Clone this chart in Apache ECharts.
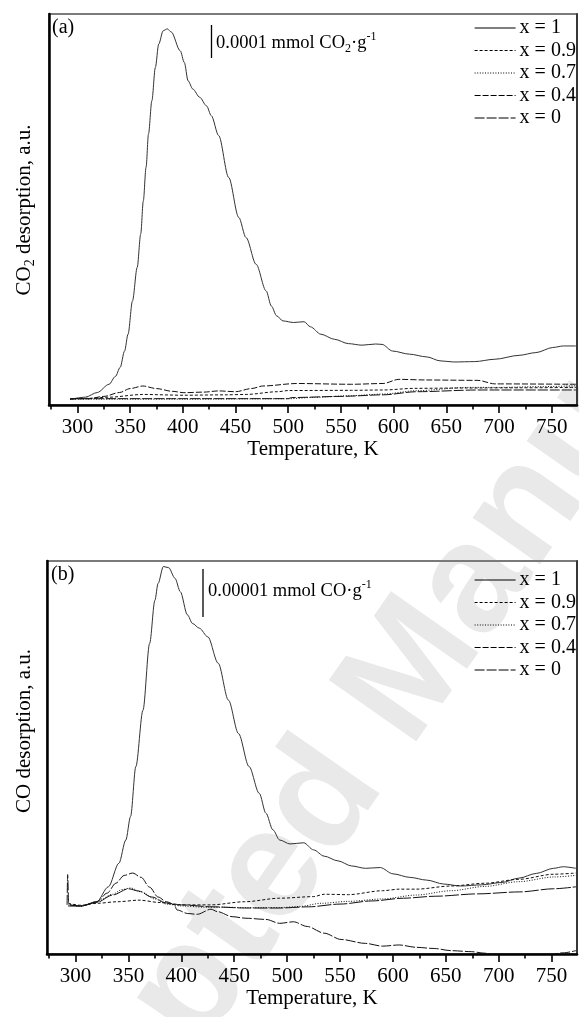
<!DOCTYPE html>
<html>
<head>
<meta charset="utf-8">
<script src="https://cdn.jsdelivr.net/npm/echarts@6/dist/echarts.min.js"></script>
<style>
html,body{margin:0;padding:0;background:#fff;}
#c{width:579px;height:1017px;}
</style>
</head>
<body>
<div id="c"></div>
<script>
// ---------- data (temperature K, desorption signal in a.u., 0..100 of panel height) ----------
const seriesNames = ['x = 1', 'x = 0.9', 'x = 0.7', 'x = 0.4', 'x = 0'];
const majorTicks = [300, 350, 400, 450, 500, 550, 600, 650, 700, 750];
const minorTicks = [275, 325, 375, 425, 475, 525, 575, 625, 675, 725];

// panel (a) CO2
const aX1 = [[293,1.45],[307.5,2.0],[318.8,3.2],[330,5.3],[336,7.3],[340.5,9.6],[344.7,13.8],[348,18.1],[352.2,26.6],[356.7,35.2],[360,43.7],[362.5,52.2],[365.1,60.8],[367.4,69.3],[370.6,77.8],[373.9,86.3],[377.1,92.3],[381.3,95.7],[385.2,96.2],[389,95.4],[397.5,90.6],[401.4,87.6],[405,82.9],[409.5,80.8],[416,78.7],[422.5,76.5],[427,74],[434,68.9],[443.5,58.2],[453,48],[460,42.8],[469.5,36],[479,29.2],[484,25.3],[489,22.8],[495,21.5],[505,21.1],[515,21.3],[521,20],[531,18.1],[544,16.8],[557,15.7],[570,15.3],[583,15.6],[589,15.5],[599,13.8],[615,13],[631.5,12.3],[644,11.3],[657,11],[677,11.1],[696,11.7],[719,12.7],[735,13.4],[751,14.7],[761,15.1],[773,15.1]];
const aX09 = [[293,1.6],[310,1.7],[330,2.0],[362,2.7],[401,2.5],[440,2.6],[460,2.7],[490,3.4],[500,3.7],[560,3.75],[590,3.84],[620,4.26],[670,4.35],[720,4.4],[773,4.5]];
const aX07 = [[293,1.5],[400,1.5],[500,1.6],[525,1.96],[560,2.4],[590,2.8],[622,3.66],[670,4.5],[700,4.5],[740,4.7],[773,4.9]];
const aX04 = [[293,1.5],[310,1.6],[325,2.2],[340,3.2],[350,4.2],[362,4.86],[375,4.2],[390,3.5],[401,3.15],[420,3.3],[434,3.6],[450,3.4],[465,4.2],[476,4.86],[508,5.5],[560,5.3],[590,5.5],[605,6.56],[631,6.4],[680,6.3],[696,5.4],[773,5.3]];
const aX0 = [[293,1.62],[400,1.62],[500,1.62],[503,1.9],[550,2.2],[590,2.6],[622,3.4],[680,3.84],[773,3.84]];

// panel (b) CO
const bX1 = [[294,12.5],[305.5,12.2],[320,13.3],[331,17.1],[341,23.1],[347.5,29],[352,35],[357,47.7],[363.7,62],[370,79],[375,90],[378,94.3],[383,98.6],[388,98.3],[394,95.6],[399,92.2],[405.7,86.3],[410.6,84.1],[417,82.9],[425,80.7],[434.8,74],[444.5,64.6],[454,56.1],[464,47.7],[473.6,40.9],[480,35.8],[486.5,31.6],[493,29],[502.7,28],[515.6,28.3],[525,26.5],[535,24.9],[548,23.7],[561,22.4],[574,21.8],[588,22],[600,20.4],[616,19.5],[632,18.8],[648,17.8],[664,17.3],[684,17.6],[703,18.2],[719,19.3],[735.5,20.5],[751.7,21.8],[761,22.2],[773,21.8]];
const bX09 = [[293,12.9],[305,12.4],[320,12.9],[340,13.3],[360,13.7],[380,13.1],[396,12.5],[428,12.5],[460,13.3],[493,14.2],[525,14.6],[535,15.2],[558,15.1],[590,16.1],[606,16.5],[622,16.5],[655,17.3],[687,18],[719,19],[752,20.3],[773,20.6]];
const bX07 = [[293,12.5],[305,12.2],[320,13.3],[335,15.2],[344,16.4],[352,16.8],[362,15.8],[375,14],[386,12.7],[402,12.2],[422,11.9],[441,11.9],[461,11.8],[493,11.8],[512,12.1],[532,12.9],[558,13.4],[590,14.0],[622,15.0],[655,16.1],[687,17.2],[719,18.4],[752,19.6],[773,20.0]];
const bX04 = [[293,12.2],[305,12.2],[320,13.1],[335,15.0],[350,16.6],[360,16.0],[372,14.5],[386,13.0],[400,12.5],[430,12.0],[460,11.7],[493,11.7],[520,12.0],[550,12.7],[580,13.5],[610,14.2],[640,14.7],[680,15.3],[720,15.8],[752,16.6],[773,17.1]];
const bX0 = [[292,12.5],[292.5,20.2],[293.5,13],[296,12.4],[305,12.2],[320,13.3],[330,15.5],[338,18],[346,20],[354,20.6],[362,19.5],[370,17],[378,14.5],[386,13.3],[393,12.6],[396,11.2],[406,10.3],[415,10.1],[428,11.4],[434,10.8],[448,9.5],[461,9.1],[480,8.8],[493,7.8],[506,8.2],[519,7],[535,5.3],[551,3.7],[574,2.7],[590,2],[606,2.3],[622,1.7],[639,1.4],[655,0.85],[674,0.6],[687,0.2],[700,-0.5],[740,-0.6],[761,0.3],[773,0.85]];

const panelA = [aX1, aX09, aX07, aX04, aX0];
const panelB = [bX1, bX09, bX07, bX04, bX0];

// ---------- styling ----------
const FONT = "'Liberation Serif', 'Times New Roman', serif";
const dashes = ['solid', [3, 2], [1, 1.6], [6, 2], [10, 2]];
const dashesB = ['solid', [3, 2], [1, 1.6], [14, 2], [10, 2]];
const lineColors = ['#333', '#111', '#111', '#111', '#111'];

const chart = echarts.init(document.getElementById('c'), null, {renderer: 'canvas'});

function xAxesFor(gridIndex, gap) {
  return [
    {
      type: 'value', gridIndex, min: 273, max: 774, position: 'bottom',
      axisLine: {show: true, lineStyle: {color: '#000', width: 2.5}},
      axisTick: {show: true, inside: false, length: 8, lineStyle: {color: '#000', width: 1.6}, customValues: majorTicks},
      axisLabel: {show: true, customValues: majorTicks, margin: 12, fontFamily: FONT, fontSize: 21, color: '#000'},
      splitLine: {show: false},
      name: 'Temperature, K', nameLocation: 'middle', nameGap: gap,
      nameTextStyle: {fontFamily: FONT, fontSize: 21, color: '#000'}
    },
    {
      type: 'value', gridIndex, min: 273, max: 774, position: 'bottom',
      axisLine: {show: false},
      axisTick: {show: true, inside: false, length: 4.5, lineStyle: {color: '#000', width: 1.6}, customValues: minorTicks},
      axisLabel: {show: false},
      splitLine: {show: false}
    }
  ];
}
function yAxesFor(gridIndex) {
  return [
    {
      type: 'value', gridIndex, min: 0, max: 100, position: 'left',
      axisLine: {show: true, lineStyle: {color: '#000', width: 2.5}},
      axisTick: {show: false}, axisLabel: {show: false}, splitLine: {show: false}
    },
    {
      type: 'value', gridIndex, min: 0, max: 100, position: 'right',
      axisLine: {show: true, lineStyle: {color: '#222', width: 1.5}},
      axisTick: {show: false}, axisLabel: {show: false}, splitLine: {show: false}
    }
  ];
}

const series = [];
panelA.forEach((d, i) => {
  series.push({
    name: seriesNames[i], type: 'line', xAxisIndex: 0, yAxisIndex: 0, data: d,
    symbol: 'none', smooth: 0.3, smoothMonotone: 'x', clip: true,
    lineStyle: {color: lineColors[i], width: 1, type: dashes[i]}, itemStyle: {color: '#111', opacity: 0}
  });
});
panelB.forEach((d, i) => {
  series.push({
    name: seriesNames[i], type: 'line', xAxisIndex: 2, yAxisIndex: 2, data: d,
    symbol: 'none', smooth: 0.3, smoothMonotone: 'x', clip: true,
    lineStyle: {color: lineColors[i], width: 1, type: dashesB[i]}, itemStyle: {color: '#111', opacity: 0}
  });
});

const legendCommon = {
  orient: 'vertical', left: 474, padding: 0, itemWidth: 41, itemHeight: 14, itemGap: 2.5,
  selectedMode: false,
  itemStyle: {opacity: 0, borderWidth: 0},
  lineStyle: {width: 1.2, opacity: 1, color: '#000'},
  textStyle: {fontFamily: FONT, fontSize: 20, color: '#000', padding: [0, 0, 0, -1]},
  data: seriesNames
};

const labelRich = {
  n: {fontFamily: FONT, fontSize: 21, color: '#000', lineHeight: 26, verticalAlign: 'middle'},
  sub: {fontFamily: FONT, fontSize: 14, color: '#000', lineHeight: 14, verticalAlign: 'bottom'}
};
const noteRich = {
  n: {fontFamily: FONT, fontSize: 18.5, color: '#000', lineHeight: 24, verticalAlign: 'middle'},
  sub: {fontFamily: FONT, fontSize: 12, color: '#000', lineHeight: 12, verticalAlign: 'bottom'},
  sup: {fontFamily: FONT, fontSize: 12, color: '#000', lineHeight: 12, verticalAlign: 'top'}
};

chart.setOption({
  animation: false,
  backgroundColor: '#fff',
  grid: [
    {left: 49, top: 14, width: 528, height: 391, show: true, borderColor: '#7a7a7a', borderWidth: 2, backgroundColor: 'transparent'},
    {left: 47, top: 561, width: 530, height: 393, show: true, borderColor: '#7a7a7a', borderWidth: 2, backgroundColor: 'transparent'}
  ],
  xAxis: [...xAxesFor(0, 26), ...xAxesFor(1, 27)],
  yAxis: [...yAxesFor(0), ...yAxesFor(1)],
  legend: [
    Object.assign({}, legendCommon, {top: 18}),
    Object.assign({}, legendCommon, {top: 570})
  ],
  series,
  graphic: [
    {type: 'text', z: -10, x: 400, y: 690, rotation: 55 * Math.PI / 180,
      style: {text: 'Accepted Manuscript', fill: '#e9e9e9', font: "bold 155px 'Liberation Sans', Arial, sans-serif", align: 'center', verticalAlign: 'middle'}},
    {type: 'text', z: 10, x: 24, y: 210, rotation: Math.PI / 2,
      style: {rich: labelRich, text: '{n|CO}{sub|2}{n| desorption, a.u.}', align: 'center', verticalAlign: 'middle'}},
    {type: 'text', z: 10, x: 24, y: 731, rotation: Math.PI / 2,
      style: {rich: labelRich, text: '{n|CO desorption, a.u.}', align: 'center', verticalAlign: 'middle'}},
    {type: 'text', z: 10, x: 52, y: 28,
      style: {text: '(a)', font: "20px 'Liberation Serif', serif", fill: '#000', align: 'left', verticalAlign: 'middle'}},
    {type: 'text', z: 10, x: 51, y: 575,
      style: {text: '(b)', font: "20px 'Liberation Serif', serif", fill: '#000', align: 'left', verticalAlign: 'middle'}},
    {type: 'line', z: 10, shape: {x1: 211.5, y1: 25, x2: 211.5, y2: 58}, style: {stroke: '#000', lineWidth: 1.3}},
    {type: 'text', z: 10, x: 216, y: 43,
      style: {rich: noteRich, text: '{n|0.0001 mmol CO}{sub|2}{n|·g}{sup|-1}', align: 'left', verticalAlign: 'middle'}},
    {type: 'line', z: 10, shape: {x1: 203, y1: 569, x2: 203, y2: 617}, style: {stroke: '#000', lineWidth: 1.3}},
    {type: 'text', z: 10, x: 208, y: 591,
      style: {rich: noteRich, text: '{n|0.00001 mmol CO·g}{sup|-1}', align: 'left', verticalAlign: 'middle'}}
  ]
});
</script>
</body>
</html>
